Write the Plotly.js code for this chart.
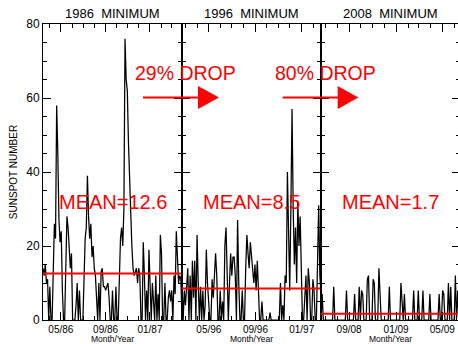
<!DOCTYPE html>
<html>
<head>
<meta charset="utf-8">
<script src="https://cdn.plot.ly/plotly-3.0.1.min.js"></script>
<style>
html,body{margin:0;padding:0;overflow:hidden;background:#fff;}
#chart{width:460px;height:344px;}
</style>
</head>
<body>
<div id="chart"></div>
<script>
const panelTitles = ["1986\u00a0\u00a0MINIMUM", "1996\u00a0\u00a0MINIMUM", "2008\u00a0\u00a0MINIMUM"];
const panelRanges = [["1986-03-13", "1987-03-30"], ["1996-02-20", "1997-02-21"], ["2008-06-20", "2009-06-16"]];
const tickVals1 = ["1986-05-01", "1986-09-01", "1987-01-01"];
const tickText1 = ["05/86", "09/86", "01/87"];
const tickVals2 = ["1996-05-01", "1996-09-01", "1997-01-01"];
const tickText2 = ["05/96", "09/96", "01/97"];
const tickVals3 = ["2008-09-01", "2009-01-01", "2009-05-01"];
const tickText3 = ["09/08", "01/09", "05/09"];

const ssn1986 = [14,12,15,10, 11,0,9, 0,0, 15,26, 22,58,45, 27,21,24, 8,0,0, 18,28,25,20, 14,18,0,
  0,0,4, 10,0,8,0,0, 0,11,22, 25,39,28, 22,26,17,20, 14,12,5, 0,10,0,13, 14,9,9,8,9,10,6,0,
  0,8,0,0,9,0,0, 14,22,25,20, 30,76, 65,62,48,37, 30,20,14, 12,13,14,10,14,12, 0,0,21,
  12,0,8,0,19,10, 0,10,4,0,12,0,7,0,23, 18,0,0,10,0,0,6, 8,5,8,0,12,7, 24,14,10,12,11,0];
const ssn1996 = [10,0,8,4,9,14,0,12,0,16, 6,16,0,23,10,0,9,0,8,0, 4,19,10,5,0,0,11,6,12,18,
  12,0,0,8,0,5,0,20,25,8, 0,10,18,12,17,17,12,0,27,10, 0,0,8,0,0,14,23,18,14,21,
  17,12,10,15,8,16,8,0,0,5, 0,0,0,0,0,0,2,0,0,0, 0,0,0,0,0,10,0,4,0,12,
  10,40,20,8,30,57,30,15,25,10, 32,20,28,14,0,0,8,12,0,14, 10,0,0,11,8,0,0,20,31,12,7];
const ssn2008 = [0,7,0,0,0,0,0,0,0,0, 0,9,0,0,0,0,0,0,0,0, 0,0,8,0,0,0,0,0,0,7,
  0,0,0,9,0,8,7,0,0,0, 11,12,0,0,0,11,10,0,0,0, 14,8,0,0,0,0,0,0,0,9,
  0,0,0,0,0,0,0,0,0,10, 5,0,7,0,0,0,0,0,0,0, 8,0,0,0,8,0,0,0,8,0,
  0,0,0,0,7,0,0,0,0,0, 0,0,7,0,0,8,7,0,0,0, 10,0,9,0,0,0,12,0,8,0,11];
const means = [12.6, 8.5, 1.7];
const meanLabels = ["MEAN=12.6", "MEAN=8.5", "MEAN=1.7"];
const dropLabels = ["29% DROP", "80% DROP"];

// ---- build ----
function spreadDates(values, range) {
  const t0 = Date.parse(range[0] + "T00:00:00Z"), t1 = Date.parse(range[1] + "T00:00:00Z");
  const n = values.length;
  return values.map((v, i) => new Date(t0 + (t1 - t0) * i / (n - 1)).toISOString().slice(0, 19).replace("T", " "));
}
const series = [ssn1986, ssn1996, ssn2008];
const axisIds = ["", "2", "3"];
const traces = [];
series.forEach((vals, k) => {
  traces.push({
    x: spreadDates(vals, panelRanges[k]), y: vals, type: "scatter", mode: "lines",
    line: {color: "black", width: 1.25}, xaxis: "x" + axisIds[k], yaxis: "y" + axisIds[k], hoverinfo: "skip"
  });
});
means.forEach((m, k) => {
  traces.push({
    x: panelRanges[k], y: [m, m], type: "scatter", mode: "lines",
    line: {color: "#ff0000", width: 2}, xaxis: "x" + axisIds[k], yaxis: "y" + axisIds[k], hoverinfo: "skip"
  });
});

const FONT = "Liberation Sans, Arial, Helvetica, sans-serif";
function xAxis(k, tv, tt) {
  return {
    domain: [k / 3, (k + 1) / 3], type: "date", range: panelRanges[k],
    tickmode: "array", tickvals: tv, ticktext: tt,
    ticks: "inside", ticklen: 8, tickcolor: "black", tickwidth: 1,
    showline: true, linecolor: "black", linewidth: 1, mirror: "ticks",
    showgrid: false, zeroline: false, anchor: "y" + axisIds[k],
    tickfont: {size: 10, family: FONT, color: "black"},
    minor: {ticks: "inside", ticklen: 4, tickcolor: "black", dtick: "M1", tick0: "1980-01-01", showgrid: false},
    title: {text: "Month/Year", font: {size: 8.5, family: FONT, color: "black"}, standoff: 2}
  };
}
function yAxis(k) {
  return {
    range: [0, 80], tickmode: "array", tickvals: [0, 20, 40, 60, 80],
    ticks: "inside", ticklen: 8, tickcolor: "black", tickwidth: 1,
    showline: true, linecolor: "black", linewidth: 1, mirror: "ticks",
    showgrid: false, zeroline: false, anchor: "x" + axisIds[k],
    showticklabels: k === 0,
    tickfont: {size: 12, family: FONT, color: "black"},
    minor: {ticks: "inside", ticklen: 4, tickcolor: "black", dtick: 5, showgrid: false},
    title: k === 0 ? {text: "SUNSPOT NUMBER", font: {size: 10, family: FONT, color: "black"}, standoff: 6} : {text: ""}
  };
}

const annotations = [];
panelTitles.forEach((t, k) => {
  annotations.push({text: t, xref: "x" + axisIds[k] + " domain", x: 0.5, yref: "paper", y: 1.037,
    xanchor: "center", yanchor: "middle", showarrow: false, font: {size: 13, family: FONT, color: "black"}});
});
meanLabels.forEach((t, k) => {
  annotations.push({text: t, xref: "x" + axisIds[k] + " domain", x: 0.5, yref: "y" + axisIds[k], y: 31.8,
    xanchor: "center", yanchor: "middle", showarrow: false, font: {size: 20, family: FONT, color: "#ff0000"}});
});
annotations.push({text: dropLabels[0], xref: "paper", x: 0.3417, yref: "paper", y: 0.836,
  xanchor: "center", yanchor: "middle", showarrow: false, font: {size: 19.5, family: FONT, color: "#ff0000"}});
annotations.push({text: dropLabels[1], xref: "paper", x: 0.6763, yref: "paper", y: 0.836,
  xanchor: "center", yanchor: "middle", showarrow: false, font: {size: 19.5, family: FONT, color: "#ff0000"}});

const shapes = [
  {type: "line", xref: "paper", yref: "paper", x0: 0.2398, x1: 0.3741, y0: 0.7517, y1: 0.7517, line: {color: "#ff0000", width: 2}},
  {type: "path", xref: "paper", yref: "paper", path: "M 0.3717 0.7905 L 0.4221 0.7517 L 0.3717 0.7128 Z", fillcolor: "#ff0000", line: {color: "#ff0000", width: 0}},
  {type: "line", xref: "paper", yref: "paper", x0: 0.5748, x1: 0.7074, y0: 0.7517, y1: 0.7517, line: {color: "#ff0000", width: 2}},
  {type: "path", xref: "paper", yref: "paper", path: "M 0.7067 0.7905 L 0.7561 0.7517 L 0.7067 0.7128 Z", fillcolor: "#ff0000", line: {color: "#ff0000", width: 0}}
];

const layout = {
  width: 460, height: 344,
  margin: {l: 43, r: 0, t: 24, b: 24, pad: 0},
  paper_bgcolor: "white", plot_bgcolor: "white", showlegend: false,
  font: {family: FONT, color: "black"},
  xaxis: xAxis(0, tickVals1, tickText1), yaxis: yAxis(0),
  xaxis2: xAxis(1, tickVals2, tickText2), yaxis2: yAxis(1),
  xaxis3: xAxis(2, tickVals3, tickText3), yaxis3: yAxis(2),
  annotations: annotations, shapes: shapes
};
Plotly.newPlot("chart", traces, layout, {staticPlot: true, displayModeBar: false});
</script>
</body>
</html>
